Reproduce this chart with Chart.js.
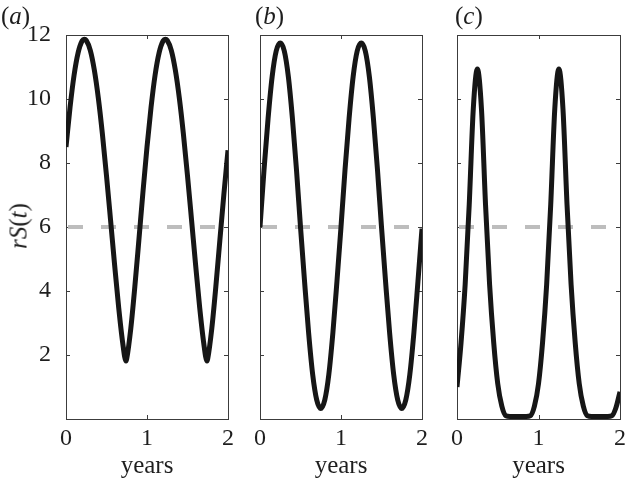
<!DOCTYPE html>
<html>
<head>
<meta charset="utf-8">
<script src="https://cdn.jsdelivr.net/npm/chart.js@4.4.0/dist/chart.umd.min.js"></script>
<style>
  body { margin: 0; background: #fff; }
  #wrap { position: relative; width: 626px; height: 481px; overflow: hidden;
          font-family: "Liberation Serif", "Times New Roman", serif; color: #1e1e1e; }
  canvas { position: absolute; left: 0; top: 0; }
  .lbl { position: absolute; font-size: 25px; line-height: 25px; white-space: nowrap; }
  #ytitle { position: absolute; left: 18px; top: 226px; font-size: 25px; line-height: 25px;
            white-space: nowrap; transform: translate(-50%, -50%) rotate(-90deg); }
</style>
</head>
<body>
<div id="wrap">
  <canvas id="pa" width="626" height="481"></canvas>
  <canvas id="pb" width="626" height="481"></canvas>
  <canvas id="pc" width="626" height="481"></canvas>
  <div class="lbl" style="left:1px;top:3px">(<i>a</i>)</div>
  <div class="lbl" style="left:255px;top:3px">(<i>b</i>)</div>
  <div class="lbl" style="left:455px;top:3px">(<i>c</i>)</div>
  <div id="ytitle"><i>rS</i>(<i>t</i>)</div>
</div>
<script>
// ---- data ----
const xTicks = [0, 1, 2];
const yTicks = [0, 2, 4, 6, 8, 10, 12];
const threshold = 6;

// panel (a): time points incl. the peaks / troughs
const tA = [0, 0.05, 0.1, 0.15, 0.2, 0.226, 0.25, 0.3, 0.35, 0.4, 0.45, 0.5, 0.55, 0.6, 0.65, 0.7, 0.741, 0.75, 0.8, 0.85, 0.9, 0.95,
            1, 1.05, 1.1, 1.15, 1.2, 1.226, 1.25, 1.3, 1.35, 1.4, 1.45, 1.5, 1.55, 1.6, 1.65, 1.7, 1.741, 1.75, 1.8, 1.85, 1.9, 1.95, 2];
const rsA = [8.5, 9.74, 10.75, 11.45, 11.82, 11.87, 11.83, 11.52, 10.9, 10.01, 8.89, 7.6, 6.22, 4.82, 3.49, 2.38, 1.81, 1.89, 2.83, 4.14, 5.6, 7.09,
             8.5, 9.74, 10.75, 11.45, 11.82, 11.87, 11.83, 11.52, 10.9, 10.01, 8.89, 7.6, 6.22, 4.82, 3.49, 2.38, 1.81, 1.89, 2.83, 4.14, 5.6, 7.05, 8.4];

// panels (b) and (c) share one time grid
const tBC = [0, 0.05, 0.1, 0.15, 0.2, 0.25, 0.3, 0.35, 0.4, 0.45, 0.5, 0.55, 0.6, 0.65, 0.7, 0.75, 0.8, 0.85, 0.9, 0.95,
             1, 1.05, 1.1, 1.15, 1.2, 1.25, 1.3, 1.35, 1.4, 1.45, 1.5, 1.55, 1.6, 1.65, 1.7, 1.75, 1.8, 1.85, 1.9, 1.95, 2];
const rsB = [6.0, 7.8, 9.4, 10.7, 11.5, 11.75, 11.5, 10.7, 9.4, 7.8, 6.0, 4.3, 2.7, 1.4, 0.6, 0.33, 0.6, 1.4, 2.7, 4.3,
             6.0, 7.8, 9.4, 10.7, 11.5, 11.75, 11.5, 10.7, 9.4, 7.8, 6.0, 4.3, 2.7, 1.4, 0.6, 0.33, 0.6, 1.4, 2.7, 4.3, 5.95];
const rsC = [1.0, 2.4, 4.2, 6.7, 9.7, 10.94, 9.7, 6.7, 4.2, 2.4, 1.1, 0.4, 0.1, 0.08, 0.08, 0.08, 0.08, 0.08, 0.1, 0.4,
             1.1, 2.4, 4.2, 6.7, 9.7, 10.94, 9.7, 6.7, 4.2, 2.4, 1.1, 0.4, 0.1, 0.08, 0.08, 0.08, 0.08, 0.08, 0.1, 0.35, 0.85];

const W = 626, H = 481;
const SERIF = '"Liberation Serif", "Times New Roman", serif';
const INK = '#1e1e1e';

// box round the plot area with small inward ticks (matlab style)
const frame = {
  id: 'frame',
  beforeDatasetsDraw(chart) {
    const {ctx, chartArea: a, scales: {x, y}} = chart;
    ctx.save();
    ctx.strokeStyle = '#3c3c3c';
    ctx.lineWidth = 1;
    ctx.strokeRect(a.left + 0.5, a.top + 0.5, a.right - a.left, a.bottom - a.top);
    ctx.beginPath();
    xTicks.forEach(v => {
      const px = Math.round(x.getPixelForValue(v)) + 0.5;
      ctx.moveTo(px, a.bottom); ctx.lineTo(px, a.bottom - 4);
      ctx.moveTo(px, a.top); ctx.lineTo(px, a.top + 4);
    });
    yTicks.forEach(v => {
      const py = Math.round(y.getPixelForValue(v)) + 0.5;
      ctx.moveTo(a.left, py); ctx.lineTo(a.left + 4, py);
      ctx.moveTo(a.right, py); ctx.lineTo(a.right - 4, py);
    });
    ctx.stroke();
    ctx.restore();
  }
};

function panel(id, ts, vals, box, showY) {
  return new Chart(document.getElementById(id), {
    type: 'line',
    data: {
      datasets: [
        { data: ts.map((t, i) => ({x: t, y: vals[i]})), borderColor: '#161616', borderWidth: 5,
          pointRadius: 0, cubicInterpolationMode: 'monotone', fill: false },
        { data: [{x: 0, y: threshold}, {x: 2, y: threshold}], borderColor: '#bdbdbd', borderWidth: 4,
          borderDash: [15, 18], borderDashOffset: 31, pointRadius: 0, fill: false }
      ]
    },
    options: {
      responsive: false, animation: false, events: [],
      layout: {padding: {left: 0, right: W - box.right, top: box.top, bottom: 0}},
      plugins: {legend: {display: false}, tooltip: {enabled: false}},
      scales: {
        x: {
          type: 'linear', min: 0, max: 2,
          afterBuildTicks: s => { s.ticks = xTicks.map(v => ({value: v})); },
          afterFit: s => { s.height = H - box.bottom; },
          grid: {display: false}, border: {display: false},
          ticks: {color: INK, font: {family: SERIF, size: 24}, padding: -3, maxRotation: 0, autoSkip: false},
          title: {display: true, text: 'years', color: INK, font: {family: SERIF, size: 25}, padding: {top: 0, bottom: 0}}
        },
        y: {
          min: 0, max: 12,
          afterBuildTicks: s => { s.ticks = yTicks.map(v => ({value: v})); },
          afterFit: s => { s.width = box.left; },
          grid: {display: false}, border: {display: false},
          ticks: {display: showY, color: INK, font: {family: SERIF, size: 24}, padding: 7,
                  callback: v => v === 0 ? '' : String(v)}
        }
      }
    },
    plugins: [frame]
  });
}

panel('pa', tA, rsA, {left: 66, right: 228, top: 35, bottom: 419}, true);
panel('pb', tBC, rsB, {left: 260, right: 422, top: 35, bottom: 419}, false);
panel('pc', tBC, rsC, {left: 457, right: 620, top: 35, bottom: 419}, false);
</script>
</body>
</html>
